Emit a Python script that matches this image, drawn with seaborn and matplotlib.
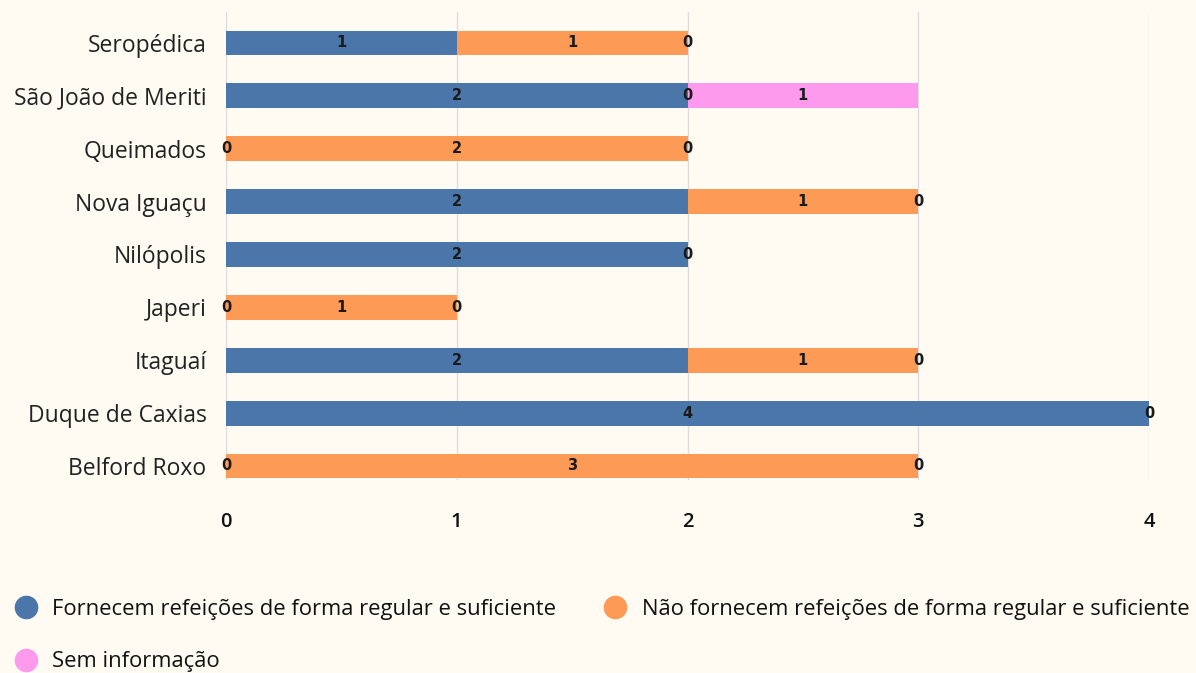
import numpy as np
import pandas as pd
import matplotlib
matplotlib.use("Agg")
import matplotlib.pyplot as plt
from matplotlib.lines import Line2D
import seaborn as sns

# data (top to bottom), NaN = no value for that series
cidades = ["Seropédica", "São João de Meriti", "Queimados", "Nova Iguaçu", "Nilópolis",
           "Japeri", "Itaguaí", "Duque de Caxias", "Belford Roxo"]
fornecem = [1, 2, 0, 2, 2, 0, 2, 4, 0]
nao_fornecem = [1, 0, 2, 1, np.nan, 1, 1, np.nan, 3]
sem_info = [0, 1, 0, 0, 0, 0, 0, 0, 0]

series_names = ["Fornecem refeições de forma regular e suficiente",
                "Não fornecem refeições de forma regular e suficiente",
                "Sem informação"]
colors = ["#4a76aa", "#fd9a55", "#fd9aee"]
bg = "#fffbf3"

df = pd.DataFrame({"cidade": cidades, "f": fornecem, "n": nao_fornecem, "s": sem_info})
df["c1"] = df["f"].fillna(0)
df["c2"] = df["c1"] + df["n"].fillna(0)
df["c3"] = df["c2"] + df["s"].fillna(0)

sns.set_style("white")
plt.rcParams["font.family"] = ["Open Sans", "DejaVu Sans"]

fig = plt.figure(figsize=(11.96, 6.73), dpi=100, facecolor=bg)
ax = fig.add_axes([226 / 1196, 1 - 480 / 673, (1149 - 226) / 1196, 468 / 673])
ax.set_facecolor(bg)

# stacked bars: draw cumulative totals from longest to shortest
for col, c in zip(["c3", "c2", "c1"], colors[::-1]):
    sns.barplot(data=df, x=col, y="cidade", order=cidades, color=c, width=0.47,
                saturation=1, edgecolor="none", linewidth=0, ax=ax, zorder=3)

# segment labels
for i, row in df.iterrows():
    left = 0
    for key in ["f", "n", "s"]:
        v = row[key]
        if pd.isna(v):
            continue
        ax.text(left + v / 2, i, f"{int(v)}", ha="center", va="center",
                fontsize=10.5, fontweight="semibold", color="#1a1a1a",
                family="DejaVu Sans", zorder=5)
        left += v

ax.set_xlim(0, 4)
ax.set_ylim(8.265, -0.586)
ax.set_xticks([0, 1, 2, 3, 4])
ax.grid(axis="x", color="#dcdcdc", linewidth=1, zorder=0)
ax.grid(axis="y", visible=False)
ax.set_axisbelow(True)
for s in ax.spines.values():
    s.set_visible(False)
ax.set_xlabel("")
ax.set_ylabel("")
ax.tick_params(axis="x", length=0, pad=23, labelsize=14.5, labelcolor="#111111")
ax.tick_params(axis="y", length=0, pad=14, labelsize=16.5, labelcolor="#222222")
for t in ax.get_xticklabels():
    t.set_fontweight("semibold")

# legend, row-wise: F, N on first row, S on second (column-major order)
handles = [Line2D([], [], marker="o", linestyle="none", markersize=16,
                  markerfacecolor=c, markeredgecolor=c) for c in colors]
order = [0, 2, 1]
fig.legend([handles[k] for k in order], [series_names[k] for k in order],
           loc="upper left", bbox_to_anchor=(-0.006, 0.14),
           ncol=2, frameon=False, fontsize=15.8, handletextpad=0.6,
           columnspacing=2.1, labelspacing=1.45, handlelength=1.2,
           labelcolor="#111111")

fig.savefig("out.png", dpi=100, facecolor=bg)
